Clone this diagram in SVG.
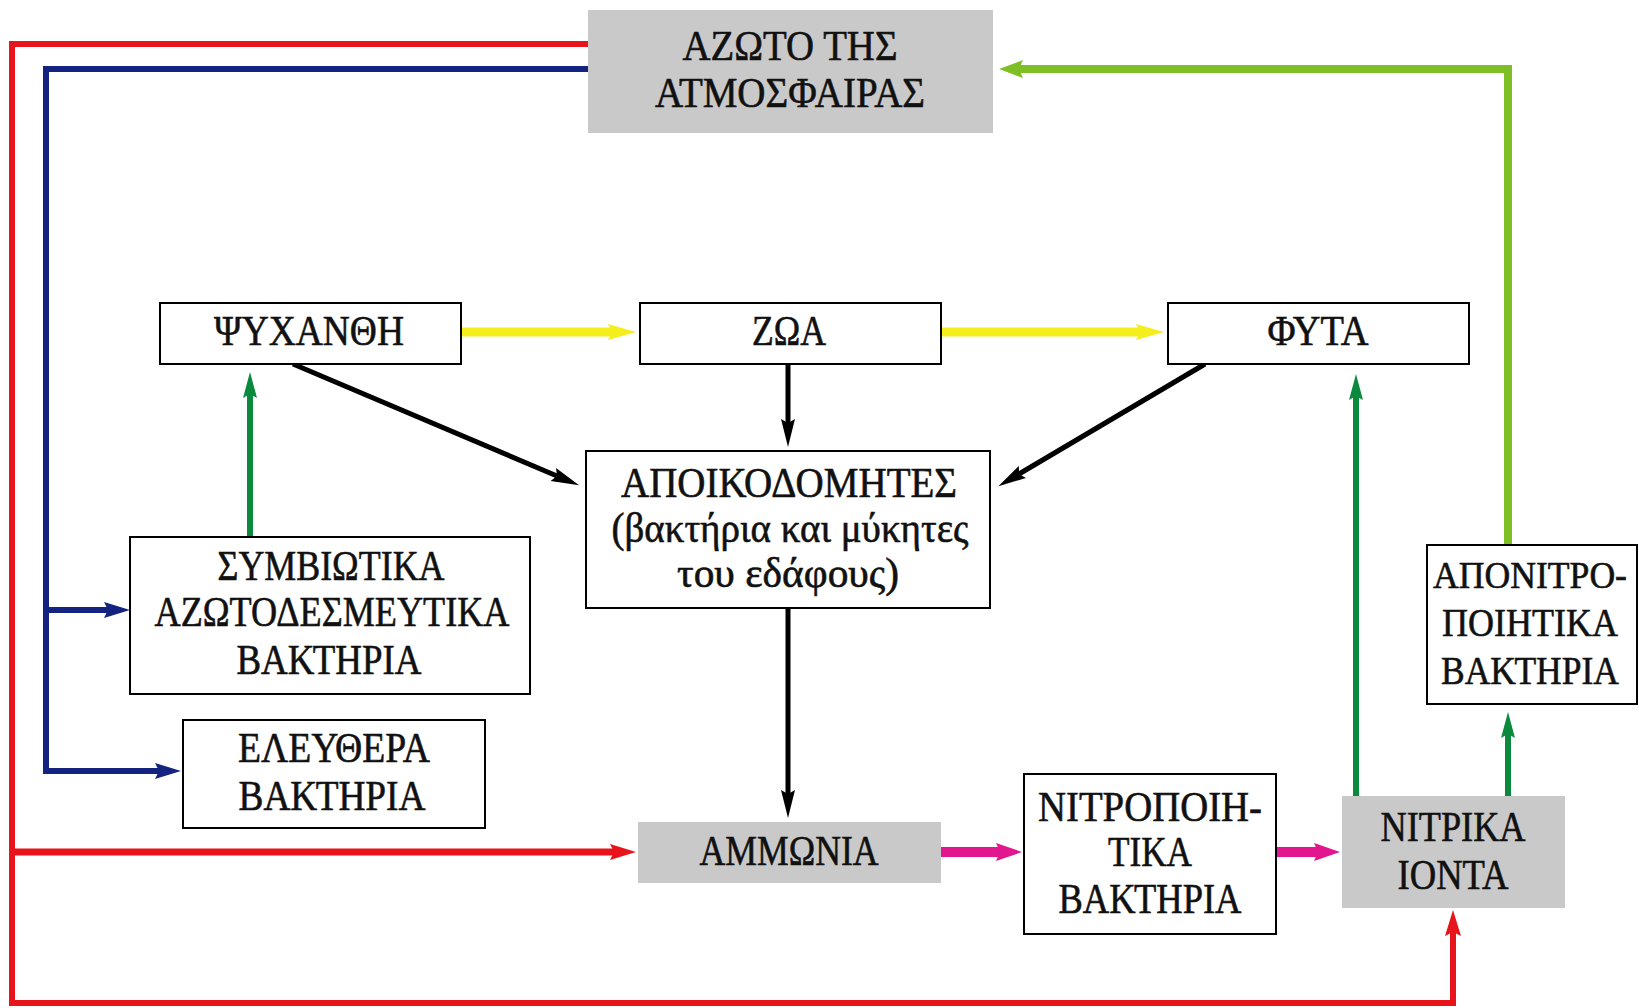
<svg xmlns="http://www.w3.org/2000/svg" width="1639" height="1008" viewBox="0 0 1639 1008">
<style>
.box{fill:#fff;stroke:#000;stroke-width:2}
.gbox{fill:#c9c9c9;stroke:none}
text{font-family:"Liberation Serif","DejaVu Serif",serif;font-size:42px;fill:#111;stroke:#111;stroke-width:0.6;text-anchor:middle}
text.s{font-size:39px}
text.xs{font-size:37px}
.c{fill:none;stroke-linejoin:miter;stroke-linecap:butt}
</style>
<defs>
<marker id="ah-black" markerUnits="userSpaceOnUse" markerWidth="32" markerHeight="16" refX="4" refY="7" orient="auto" overflow="visible"><path d="M0,0 L28,7 L0,14 L4,7 z" fill="#000"/></marker>
<marker id="ah-yellow" markerUnits="userSpaceOnUse" markerWidth="32" markerHeight="18" refX="4" refY="8" orient="auto" overflow="visible"><path d="M0,0 L28,8 L0,16 L4,8 z" fill="#f4ee1c"/></marker>
<marker id="ah-red" markerUnits="userSpaceOnUse" markerWidth="32" markerHeight="18" refX="4" refY="8" orient="auto" overflow="visible"><path d="M0,0 L26,8 L0,16 L4,8 z" fill="#e8141c"/></marker>
<marker id="ah-blue" markerUnits="userSpaceOnUse" markerWidth="32" markerHeight="18" refX="4" refY="8" orient="auto" overflow="visible"><path d="M0,0 L26,8 L0,16 L4,8 z" fill="#13237f"/></marker>
<marker id="ah-lgreen" markerUnits="userSpaceOnUse" markerWidth="32" markerHeight="20" refX="4" refY="9" orient="auto" overflow="visible"><path d="M0,0 L24,9 L0,18 L4,9 z" fill="#7fbf26"/></marker>
<marker id="ah-dgreen" markerUnits="userSpaceOnUse" markerWidth="32" markerHeight="16" refX="4" refY="7" orient="auto" overflow="visible"><path d="M0,0 L26,7 L0,14 L4,7 z" fill="#0b8a3e"/></marker>
<marker id="ah-magenta" markerUnits="userSpaceOnUse" markerWidth="32" markerHeight="20" refX="4" refY="9" orient="auto" overflow="visible"><path d="M0,0 L26,9 L0,18 L4,9 z" fill="#e2168e"/></marker>
</defs>

<g id="connectors">
<path class="c" d="M588,44 H12 V1003 H1453 V932" stroke="#e8141c" stroke-width="6" marker-end="url(#ah-red)"/>
<path class="c" d="M12,852 H614" stroke="#e8141c" stroke-width="7" marker-end="url(#ah-red)"/>
<path class="c" d="M588,69 H46 V771 H159" stroke="#13237f" stroke-width="6" marker-end="url(#ah-blue)"/>
<path class="c" d="M46,610 H108" stroke="#13237f" stroke-width="6" marker-end="url(#ah-blue)"/>
<path class="c" d="M1508,545 V69 H1019" stroke="#7fbf26" stroke-width="8" marker-end="url(#ah-lgreen)"/>
<path class="c" d="M461,332 H612" stroke="#f4ee1c" stroke-width="9" marker-end="url(#ah-yellow)"/>
<path class="c" d="M941,332 H1140" stroke="#f4ee1c" stroke-width="9" marker-end="url(#ah-yellow)"/>
<path class="c" d="M293,364 L557,476" stroke="#000" stroke-width="5" marker-end="url(#ah-black)"/>
<path class="c" d="M788,364 V423" stroke="#000" stroke-width="5" marker-end="url(#ah-black)"/>
<path class="c" d="M1205,364 L1019,474" stroke="#000" stroke-width="5" marker-end="url(#ah-black)"/>
<path class="c" d="M788,608 V794" stroke="#000" stroke-width="5" marker-end="url(#ah-black)"/>
<path class="c" d="M250,536 V394" stroke="#0b8a3e" stroke-width="6" marker-end="url(#ah-dgreen)"/>
<path class="c" d="M1356,796 V396" stroke="#0b8a3e" stroke-width="6" marker-end="url(#ah-dgreen)"/>
<path class="c" d="M1508,796 V734" stroke="#0b8a3e" stroke-width="6" marker-end="url(#ah-dgreen)"/>
<path class="c" d="M941,852 H1000" stroke="#e2168e" stroke-width="10" marker-end="url(#ah-magenta)"/>
<path class="c" d="M1276,852 H1318" stroke="#e2168e" stroke-width="10" marker-end="url(#ah-magenta)"/>
</g>

<g id="atmosphere-nitrogen">
<rect class="gbox" x="588" y="10" width="405" height="123"/>
<text x="790" y="60" textLength="215" lengthAdjust="spacingAndGlyphs">ΑΖΩΤΟ ΤΗΣ</text>
<text x="790" y="107" textLength="270" lengthAdjust="spacingAndGlyphs">ΑΤΜΟΣΦΑΙΡΑΣ</text>
</g>
<g id="psychanthi">
<rect class="box" x="160" y="303" width="301" height="61"/>
<text x="309" y="345" textLength="190" lengthAdjust="spacingAndGlyphs">ΨΥΧΑΝΘΗ</text>
</g>
<g id="zoa">
<rect class="box" x="640" y="303" width="301" height="61"/>
<text x="789" y="345" textLength="74" lengthAdjust="spacingAndGlyphs">ΖΩΑ</text>
</g>
<g id="fyta">
<rect class="box" x="1168" y="303" width="301" height="61"/>
<text x="1318" y="345" textLength="101" lengthAdjust="spacingAndGlyphs">ΦΥΤΑ</text>
</g>
<g id="apoikodomites">
<rect class="box" x="586" y="451" width="404" height="157"/>
<text x="789" y="497" textLength="336" lengthAdjust="spacingAndGlyphs">ΑΠΟΙΚΟΔΟΜΗΤΕΣ</text>
<text x="790" y="542" textLength="357" lengthAdjust="spacingAndGlyphs">(βακτήρια και μύκητες</text>
<text x="788" y="587" textLength="222" lengthAdjust="spacingAndGlyphs">του εδάφους)</text>
</g>
<g id="symviotika">
<rect class="box" x="130" y="537" width="400" height="157"/>
<text x="331" y="580" textLength="227" lengthAdjust="spacingAndGlyphs">ΣΥΜΒΙΩΤΙΚΑ</text>
<text x="332" y="626" textLength="355" lengthAdjust="spacingAndGlyphs">ΑΖΩΤΟΔΕΣΜΕΥΤΙΚΑ</text>
<text x="329" y="674" textLength="185" lengthAdjust="spacingAndGlyphs">ΒΑΚΤΗΡΙΑ</text>
</g>
<g id="eleuthera">
<rect class="box" x="183" y="720" width="302" height="108"/>
<text x="334" y="762" textLength="192" lengthAdjust="spacingAndGlyphs">ΕΛΕΥΘΕΡΑ</text>
<text x="332" y="810" textLength="187" lengthAdjust="spacingAndGlyphs">ΒΑΚΤΗΡΙΑ</text>
</g>
<g id="ammonia">
<rect class="gbox" x="638" y="822" width="303" height="61"/>
<text x="789" y="865" textLength="179" lengthAdjust="spacingAndGlyphs">ΑΜΜΩΝΙΑ</text>
</g>
<g id="nitropoiitika">
<rect class="box" x="1024" y="774" width="252" height="160"/>
<text x="1150" y="821" textLength="224" lengthAdjust="spacingAndGlyphs">ΝΙΤΡΟΠΟΙΗ-</text>
<text x="1150" y="866" textLength="84" lengthAdjust="spacingAndGlyphs">ΤΙΚΑ</text>
<text x="1150" y="913" textLength="183" lengthAdjust="spacingAndGlyphs">ΒΑΚΤΗΡΙΑ</text>
</g>
<g id="nitrika">
<rect class="gbox" x="1342" y="796" width="223" height="112"/>
<text x="1453" y="841" textLength="145" lengthAdjust="spacingAndGlyphs">ΝΙΤΡΙΚΑ</text>
<text x="1453" y="889" textLength="111" lengthAdjust="spacingAndGlyphs">ΙΟΝΤΑ</text>
</g>
<g id="aponitropoiitika">
<rect class="box" x="1427" y="545" width="210" height="159"/>
<text class="xs" x="1530" y="588" textLength="194" lengthAdjust="spacingAndGlyphs">ΑΠΟΝΙΤΡΟ-</text>
<text class="s" x="1530" y="636" textLength="176" lengthAdjust="spacingAndGlyphs">ΠΟΙΗΤΙΚΑ</text>
<text class="s" x="1530" y="684" textLength="178" lengthAdjust="spacingAndGlyphs">ΒΑΚΤΗΡΙΑ</text>
</g>
</svg>
